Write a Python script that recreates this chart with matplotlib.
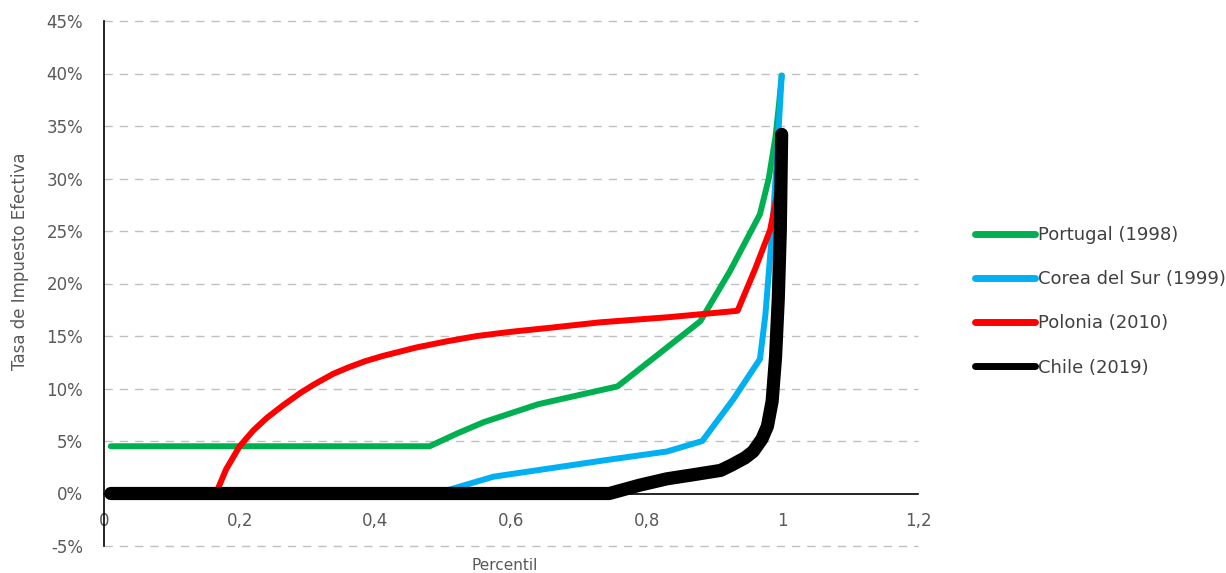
import matplotlib
matplotlib.use("Agg")
import matplotlib.pyplot as plt
from matplotlib.lines import Line2D

# percentil vs tasa efectiva (%)
portugal_x = [0.01, 0.48, 0.52, 0.56, 0.64, 0.757, 0.82, 0.879, 0.923, 0.967, 0.98, 0.99, 0.995, 0.999]
portugal_y = [4.5, 4.5, 5.7, 6.8, 8.5, 10.2, 13.4, 16.4, 21.2, 26.6, 30.0, 34.0, 37.0, 39.8]

corea_x = [0.01, 0.49, 0.574, 0.742, 0.83, 0.882, 0.928, 0.967, 0.975, 0.985, 0.993, 0.999]
corea_y = [0.0, 0.0, 1.6, 3.2, 4.0, 5.0, 9.0, 12.8, 17.0, 25.0, 33.0, 39.8]

polonia_x = [0.165, 0.18, 0.2, 0.22, 0.24, 0.264, 0.29, 0.31, 0.338, 0.36, 0.385, 0.411, 0.46,
             0.506, 0.55, 0.6, 0.66, 0.731, 0.834, 0.934, 0.96, 0.982, 0.994, 0.998]
polonia_y = [0.0, 2.3, 4.5, 6.0, 7.2, 8.4, 9.6, 10.4, 11.4, 12.0, 12.6, 13.1, 13.9,
             14.5, 15.0, 15.4, 15.8, 16.3, 16.8, 17.4, 21.4, 25.1, 29.0, 30.0]

chile_x = [0.01, 0.745, 0.79, 0.83, 0.87, 0.909, 0.925, 0.945, 0.957, 0.97, 0.978, 0.985,
           0.99, 0.994, 0.997, 0.999]
chile_y = [0.0, 0.0, 0.8, 1.4, 1.8, 2.2, 2.7, 3.4, 4.0, 5.2, 6.4, 8.8,
           13.0, 18.5, 25.0, 34.2]

series = [
    ("Portugal (1998)", portugal_x, portugal_y, "#00B050", 4.3),
    ("Corea del Sur (1999)", corea_x, corea_y, "#00B0F0", 4.3),
    ("Polonia (2010)", polonia_x, polonia_y, "#FF0000", 4.3),
    ("Chile (2019)", chile_x, chile_y, "#000000", 9.5),
]

x_ticks = [0, 0.2, 0.4, 0.6, 0.8, 1.0, 1.2]
x_labels = ["0", "0,2", "0,4", "0,6", "0,8", "1", "1,2"]
y_ticks = list(range(-5, 50, 5))

txt = "#595959"

fig = plt.figure(figsize=(12.26, 5.73), dpi=100)
ax = fig.add_axes([104 / 1226, 1 - 546 / 573, (918 - 104) / 1226, (546 - 21) / 573])

for yv in y_ticks:
    if yv != 0:
        ax.axhline(yv, color="#C0C0C0", lw=1.0, dashes=(6, 5), zorder=1, clip_on=False)

for name, xs, ys, col, lw in series:
    ax.plot(xs, ys, color=col, lw=lw, solid_capstyle="round",
            solid_joinstyle="round", zorder=3, clip_on=False)

ax.set_xlim(0, 1.2)
ax.set_ylim(-5, 45)
ax.spines["top"].set_visible(False)
ax.spines["right"].set_visible(False)
ax.spines["bottom"].set_position(("data", 0))
ax.spines["bottom"].set_zorder(2)
ax.spines["left"].set_color("#000000")
ax.spines["bottom"].set_color("#000000")
ax.spines["left"].set_linewidth(1.2)
ax.spines["bottom"].set_linewidth(1.2)

ax.set_xticks(x_ticks)
ax.set_xticklabels(x_labels)
ax.set_yticks(y_ticks)
ax.set_yticklabels([f"{v}%" for v in y_ticks])
ax.tick_params(axis="x", length=0, pad=13, labelsize=12, labelcolor=txt)
ax.tick_params(axis="y", length=0, pad=15, labelsize=12, labelcolor=txt)

fig.text(20 / 1226, 1 - 261 / 573, "Tasa de Impuesto Efectiva", rotation=90,
         ha="center", va="center", fontsize=12, color=txt)
fig.text(505 / 1226, 1 - 565 / 573, "Percentil", ha="center", va="center",
         fontsize=11, color=txt)

handles = [Line2D([0], [0], color=col, lw=5, solid_capstyle="round") for _, _, _, col, _ in series]
labels = [s[0] for s in series]
fig.legend(handles, labels, loc="upper left", bbox_to_anchor=(975 / 1226, 1 - 226 / 573),
           frameon=False, fontsize=13, labelcolor="#404040", handlelength=3.3,
           handletextpad=0.2, labelspacing=1.45, borderaxespad=0, borderpad=0)

fig.savefig("out.png", dpi=100)
